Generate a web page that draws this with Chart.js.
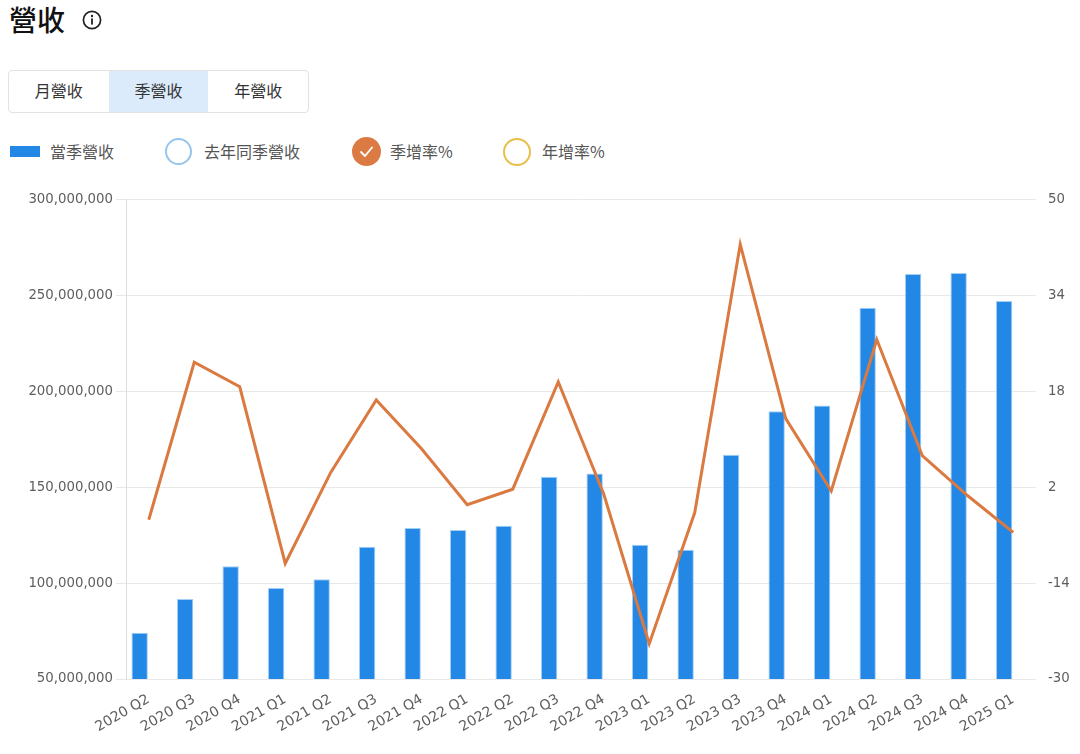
<!DOCTYPE html>
<html lang="zh-Hant">
<head>
<meta charset="utf-8">
<script src="https://cdn.jsdelivr.net/npm/chart.js@4.4.1/dist/chart.umd.min.js"></script>
<style>
  html, body { margin:0; padding:0; background:#fff; width:1080px; height:754px; overflow:hidden;
    font-family: "Noto Sans CJK TC", "Noto Sans", sans-serif; }
  .abs { position:absolute; }
  #title { left:9px; top:0px; font-size:28px; font-weight:500; color:#111; line-height:38px; }
  #info { left:82px; top:10px; width:20px; height:20px; }
  #tabs { left:8px; top:70px; width:299px; height:41px; border:1px solid #e2e2e2; border-radius:4px; display:flex; overflow:hidden; }
  #tabs div { flex:1; display:flex; align-items:center; justify-content:center; font-size:16px; color:#333; padding-bottom:3px; }
  #tabs div.sel { background:#dcebfb; }
  .lgtext { font-size:16px; color:#555; line-height:20px; top:141px; }
  .circ { box-sizing:border-box; border-radius:50%; }
  #chartbox { left:0; top:180px; width:1080px; height:574px; }
</style>
</head>
<body>
<div id="title" class="abs">營收</div>
<svg id="info" class="abs" viewBox="0 0 20 20">
  <circle cx="10" cy="10" r="8.6" fill="none" stroke="#222" stroke-width="1.7"/>
  <circle cx="10" cy="6" r="1.2" fill="#222"/>
  <rect x="9.1" y="8.4" width="1.8" height="6.2" fill="#222"/>
</svg>
<div id="tabs" class="abs">
  <div>月營收</div>
  <div class="sel">季營收</div>
  <div>年營收</div>
</div>

<div class="abs" style="left:10px;top:146px;width:30px;height:11px;background:#2387e6;"></div>
<div class="abs lgtext" style="left:50px;">當季營收</div>
<div class="abs circ" style="left:165px;top:138px;width:27px;height:27px;border:2.5px solid #95c5ee;"></div>
<div class="abs lgtext" style="left:204px;">去年同季營收</div>
<div class="abs circ" style="left:352px;top:137px;width:29px;height:29px;background:#dc7a44;"></div>
<svg class="abs" style="left:352px;top:137px;width:29px;height:29px;" viewBox="0 0 29 29">
  <polyline points="9,15 13,19 20,10.5" fill="none" stroke="#fff" stroke-width="1.8" stroke-linecap="round" stroke-linejoin="round"/>
</svg>
<div class="abs lgtext" style="left:390px;">季增率%</div>
<div class="abs circ" style="left:503px;top:138px;width:28px;height:28px;border:2.5px solid #e8bf4a;"></div>
<div class="abs lgtext" style="left:542px;">年增率%</div>

<div id="chartbox" class="abs"><canvas id="c"></canvas></div>

<script>
const quarters = ["2020 Q2","2020 Q3","2020 Q4","2021 Q1","2021 Q2","2021 Q3","2021 Q4","2022 Q1","2022 Q2","2022 Q3","2022 Q4","2023 Q1","2023 Q2","2023 Q3","2023 Q4","2024 Q1","2024 Q2","2024 Q3","2024 Q4","2025 Q1"];
const revenue = [74100000, 91700000, 108900000, 97500000, 102000000, 119000000, 128800000, 127800000, 130000000, 155500000, 157200000, 120000000, 117400000, 167100000, 189700000, 192800000, 243700000, 261400000, 261900000, 247300000];
const prevYearRevenue = [null,null,null,null,null,null,null,null,null,null,null,null,null,null,null,null,null,null,null,null];
const qoqPct = [-3.4, 22.9, 18.8, -10.7, 4.5, 16.6, 8.4, -0.9, 1.7, 19.6, 0.9, -24.1, -2.2, 42.6, 13.5, 1.4, 26.7, 7.3, 0.6, -5.5];
const yoyPct = [null,null,null,null,null,null,null,null,null,null,null,null,null,null,null,null,null,null,null,null];
const leftTicks = [50000000, 300000000, 50000000];   // min, max, step
const rightTicks = [-30, 50, 16];                     // min, max, step

const tickFontY = { family: "DejaVu Sans", size: 13.3 };
const tickFontX = { family: "DejaVu Sans", size: 14 };

new Chart(document.getElementById('c'), {
  data: {
    labels: quarters,
    datasets: [
      { type:'bar', label:'當季營收', data: revenue, yAxisID:'y', order:1,
        backgroundColor:'#2387e6', borderColor:'#a3cff5', borderWidth:1 },
      { type:'bar', label:'去年同季營收', data: prevYearRevenue, yAxisID:'y', order:1,
        backgroundColor:'#95c5ee' },
      { type:'line', label:'季增率%', data: qoqPct, yAxisID:'y1', order:0,
        borderColor:'#da7a41', borderWidth:3, pointRadius:0, pointHoverRadius:0, tension:0, fill:false },
      { type:'line', label:'年增率%', data: yoyPct, yAxisID:'y1', order:0, hidden:true,
        borderColor:'#e8bf4a', borderWidth:3, pointRadius:0, tension:0, fill:false }
    ]
  },
  options: {
    responsive: true,
    maintainAspectRatio: false,
    animation: false,
    layout: { padding: { top: 18, left: 0, right: 0, bottom: 0 } },
    plugins: { legend: { display:false }, tooltip: { enabled:false } },
    scales: {
      x: {
        grid: { display:false },
        border: { display:false },
        ticks: { font: tickFontX, color:'#5e5e5e', autoSkip:false, minRotation:30, maxRotation:30, padding:4 },
        afterFit(s) { s.height = 75; }
      },
      y: {
        position:'left',
        min: leftTicks[0], max: leftTicks[1],
        ticks: { stepSize: leftTicks[2], font: tickFontY, color:'#5e5e5e', padding:3,
                 callback: v => Number(v).toLocaleString('en-US') },
        grid: { color:'#e8e8e8', tickLength:10, lineWidth:1 },
        border: { display:true, color:'#dedede' },
        afterFit(s) { s.width = 126; }
      },
      y1: {
        position:'right',
        min: rightTicks[0], max: rightTicks[1],
        ticks: { stepSize: rightTicks[2], font: tickFontY, color:'#5e5e5e', padding:12 },
        grid: { drawOnChartArea:false, drawTicks:false },
        border: { display:false },
        afterFit(s) { s.width = 44; }
      }
    }
  }
});
</script>
</body>
</html>
